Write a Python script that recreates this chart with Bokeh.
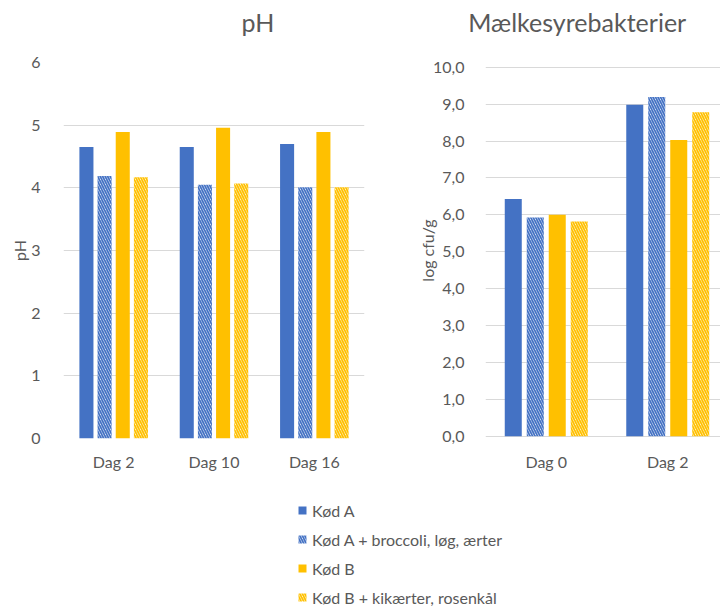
from bokeh.plotting import figure
from bokeh.models import ColumnDataSource, Range1d, FixedTicker, Legend, LegendItem
from bokeh.layouts import column, row
from bokeh.transform import dodge
from bokeh.core.properties import value
from bokeh.embed import file_html
from bokeh.resources import INLINE

# ---------------- data ----------------
series_names = ["Kød A", "Kød A + broccoli, løg, ærter", "Kød B", "Kød B + kikærter, rosenkål"]
panel_titles = ["pH", "Mælkesyrebakterier"]

ph_days = ["Dag 2", "Dag 10", "Dag 16"]
ph_kod_a = [4.65, 4.65, 4.70]
ph_kod_a_plus = [4.19, 4.05, 4.01]
ph_kod_b = [4.89, 4.96, 4.89]
ph_kod_b_plus = [4.17, 4.07, 4.01]

lab_days = ["Dag 0", "Dag 2"]
lab_kod_a = [6.43, 8.98]
lab_kod_a_plus = [5.93, 9.19]
lab_kod_b = [6.00, 8.03]
lab_kod_b_plus = [5.82, 8.78]

ph_ticks = [0, 1, 2, 3, 4, 5, 6]
ph_tick_labels = ["0", "1", "2", "3", "4", "5", "6"]
lab_ticks = [0, 1, 2, 3, 4, 5, 6, 7, 8, 9, 10]
lab_tick_labels = ["0,0", "1,0", "2,0", "3,0", "4,0", "5,0", "6,0", "7,0", "8,0", "9,0", "10,0"]

# ---------------- style ----------------
BLUE = "#4472C4"
GOLD = "#FFC000"
TXT = "#595959"
GRID = "#D9D9D9"
FONT = "Lato"
series_style = [
    dict(fill_color=BLUE, line_color=None),
    dict(fill_color="white", line_color=None, hatch_pattern="\\", hatch_color=BLUE, hatch_scale=5, hatch_weight=1.8),
    dict(fill_color=GOLD, line_color=None),
    dict(fill_color="white", line_color=None, hatch_pattern="\\", hatch_color=GOLD, hatch_scale=5, hatch_weight=1.8),
]
BAR_W = 0.14
STEP = 0.181
STRIP_H = 40
PANEL_H = 440
FRAME_TOP = 62      # page y of the (shared) plot frame top
FRAME_BOTTOM = 438  # page y of the (shared) plot frame bottom


def make_panel(days, values, ticks, tick_labels, ylabel, width, x_end, y_start, y_end,
               border_left, border_right, label_standoff, axis_label_standoff):
    p = figure(width=width, height=PANEL_H, output_backend="svg", toolbar_location=None,
               title=None,
               x_range=Range1d(0, x_end), y_range=Range1d(y_start, y_end),
               min_border_left=border_left, min_border_right=border_right,
               min_border_top=FRAME_TOP - STRIP_H,
               min_border_bottom=STRIP_H + PANEL_H - FRAME_BOTTOM)
    p.outline_line_color = None
    p.background_fill_color = "white"
    p.border_fill_color = "white"
    xs = [i + 0.5 for i in range(len(days))]
    data = dict(x=xs)
    for k, vals in enumerate(values):
        data["s%d" % k] = vals
    src = ColumnDataSource(data)
    for k in range(len(values)):
        p.vbar(x=dodge("x", (k - 1.5) * STEP, range=p.x_range), top="s%d" % k, bottom=0,
               width=BAR_W, source=src, **series_style[k])

    p.xgrid.visible = False
    p.ygrid.grid_line_color = GRID
    p.ygrid.grid_line_width = 1
    p.ygrid.ticker = FixedTicker(ticks=ticks)

    ya = p.yaxis[0]
    ya.ticker = FixedTicker(ticks=ticks)
    ya.major_label_overrides = {t: l for t, l in zip(ticks, tick_labels)}
    ya.axis_line_color = None
    ya.major_tick_line_color = None
    ya.minor_tick_line_color = None
    ya.major_label_standoff = label_standoff
    ya.major_label_text_font = FONT
    ya.major_label_text_font_size = "16px"
    ya.major_label_text_color = TXT
    ya.axis_label = ylabel
    ya.axis_label_text_font = FONT
    ya.axis_label_text_font_size = "16px"
    ya.axis_label_text_font_style = "normal"
    ya.axis_label_text_color = TXT
    ya.axis_label_standoff = axis_label_standoff

    xa = p.xaxis[0]
    xa.ticker = FixedTicker(ticks=xs)
    xa.major_label_overrides = {x: d for x, d in zip(xs, days)}
    xa.axis_line_color = None
    xa.major_tick_line_color = None
    xa.minor_tick_line_color = None
    xa.major_label_standoff = 7
    xa.major_label_text_font = FONT
    xa.major_label_text_font_size = "16px"
    xa.major_label_text_color = TXT
    return p


p1 = make_panel(ph_days, [ph_kod_a, ph_kod_a_plus, ph_kod_b, ph_kod_b_plus],
                ph_ticks, ph_tick_labels, "pH", 370, 3, 0, 6,
                63, 6, 17, -1)
# right panel: 0 at page y 435.7, 10 at 66.7 -> extend range to the shared frame
px_per_unit = (435.7 - 66.7) / 10
p2 = make_panel(lab_days, [lab_kod_a, lab_kod_a_plus, lab_kod_b, lab_kod_b_plus],
                lab_ticks, lab_tick_labels, "log cfu/g", 350, 235 / 121.5,
                -(FRAME_BOTTOM - 435.7) / px_per_unit, (435.7 - FRAME_TOP) / px_per_unit,
                115, 0, 15, -7)

# ---------------- title strip (pixel-mapped ranges) ----------------
pt = figure(width=720, height=STRIP_H, output_backend="svg", toolbar_location=None,
            title=None, x_axis_type=None, y_axis_type=None,
            x_range=Range1d(0, 720), y_range=Range1d(0, STRIP_H),
            min_border_left=0, min_border_right=0, min_border_top=0, min_border_bottom=0)
pt.grid.visible = False
pt.outline_line_color = None
pt.text(x=[257.4, 576.7], y=[STRIP_H - 21.5, STRIP_H - 21.5], text=panel_titles,
        text_align="center", text_baseline="middle",
        text_font=value(FONT), text_font_size="25px", text_color=TXT)

# ---------------- legend panel ----------------
pl = figure(width=720, height=128, output_backend="svg", toolbar_location=None,
            title=None, x_axis_type=None, y_axis_type=None,
            x_range=Range1d(0, 1), y_range=Range1d(0, 1),
            min_border_left=0, min_border_right=0, min_border_top=0, min_border_bottom=0)
pl.grid.visible = False
pl.outline_line_color = None
items = []
for k, name in enumerate(series_names):
    r = pl.vbar(x=[5], top=[1], width=0.5, **series_style[k])
    items.append(LegendItem(label=name, renderers=[r]))
leg = Legend(items=items, location=(297, 1), orientation="vertical",
             glyph_width=10, glyph_height=10, label_height=20, spacing=9,
             label_standoff=5, padding=0, margin=0,
             border_line_color=None, background_fill_alpha=0,
             label_text_font=FONT, label_text_font_size="16px", label_text_color=TXT)
pl.add_layout(leg, "center")

layout = column(pt, row(p1, p2), pl)
open("out.html", "w").write(file_html(layout, INLINE))
